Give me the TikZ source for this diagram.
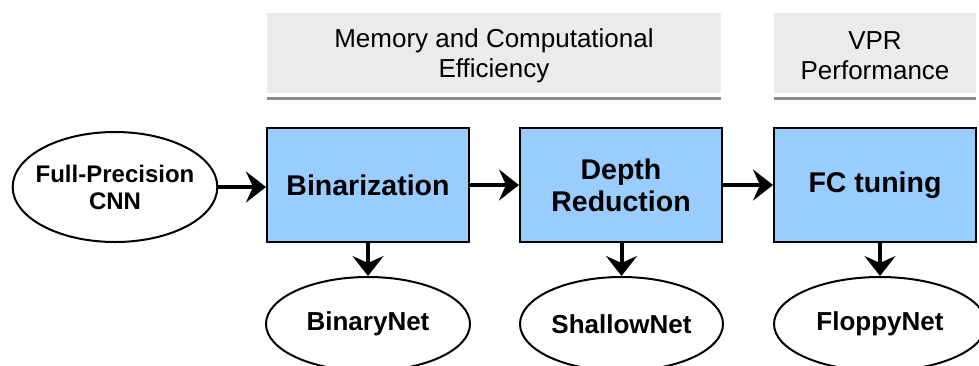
\documentclass[tikz,border=0pt]{standalone}
\usepackage{fontspec}
\setmainfont{Liberation Sans}
\usetikzlibrary{arrows.meta,shapes.geometric}
\definecolor{hdrgray}{HTML}{EBEBEB}
\definecolor{hdrline}{HTML}{8C8C8C}
\definecolor{boxblue}{HTML}{99CCFF}
\tikzset{
  hdrbox/.style={fill=hdrgray, draw=none, inner sep=0pt, align=center,
    font=\fontsize{26}{30}\selectfont},
  procbox/.style={rectangle, fill=boxblue, draw=black, line width=2pt, inner sep=0pt,
    minimum width=202pt, minimum height=114pt, align=center,
    font=\bfseries\fontsize{28.5}{32}\selectfont},
  netell/.style={ellipse, draw=black, line width=2pt, fill=white, inner sep=0pt,
    minimum height=94pt, align=center, font=\bfseries\fontsize{26}{30}\selectfont},
  flowarrow/.style={line width=4pt, -{Stealth[length=20pt,width=31pt,inset=7pt]}},
  hdrrule/.style={draw=hdrline, line width=3pt}
}
\begin{document}
\begin{tikzpicture}[x=1pt,y=-1pt]
\clip (0,0) rectangle (979,365);
\fill[white] (0,0) rectangle (979,365);
% headers
\fill[hdrgray] (267,13) rectangle (721,93);
\fill[hdrgray] (774,13) rectangle (976,93);
\node[align=center, inner sep=0pt, font=\fontsize{26}{30}\selectfont] (h1) at (494,56) {Memory and Computational\\Efficiency};
\node[align=center, inner sep=0pt, font=\fontsize{26}{30}\selectfont] (h2) at (875,56) {VPR\\Performance};
\coordinate (r1a) at (267,98); \coordinate (r1b) at (721,98);
\coordinate (r2a) at (774,98); \coordinate (r2b) at (976,98);
\draw[hdrrule] (r1a) -- (r1b);
\draw[hdrrule] (r2a) -- (r2b);
% main nodes
\node[ellipse, draw=black, line width=2pt, fill=white, inner xsep=-7pt, inner ysep=0pt,
  minimum height=110pt, align=center,
  font=\bfseries\fontsize{24}{27}\selectfont] (cnn) at (115,187) {Full-Precision\\CNN};
\node[procbox] (bin) at (368,185) {Binarization};
\node[procbox] (dep) at (621,185) {Depth\\Reduction};
\node[procbox] (fc) at (875,185) {FC tuning};
\node[netell, minimum width=204pt] (bnet) at (368,324) {BinaryNet};
\node[netell, minimum width=203pt] (snet) at (621.5,324) {ShallowNet};
\node[netell, minimum width=212pt] (fnet) at (880,324) {FloppyNet};
% arrows
\draw[flowarrow] (cnn.east) -- (cnn.east -| bin.west);
\draw[flowarrow] (bin.east) -- (dep.west);
\draw[flowarrow] (dep.east) -- (fc.west);
\draw[flowarrow] (bnet.north |- bin.south) -- (bnet.north);
\draw[flowarrow] (snet.north |- dep.south) -- (snet.north);
\draw[flowarrow] (fnet.north |- fc.south) -- (fnet.north);
\end{tikzpicture}
\end{document}
